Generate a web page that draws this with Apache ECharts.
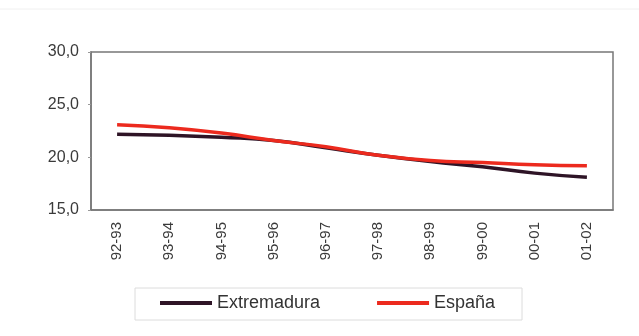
<!DOCTYPE html>
<html>
<head>
<meta charset="utf-8">
<script src="https://cdn.jsdelivr.net/npm/echarts@6/dist/echarts.min.js"></script>
<style>
  html, body { margin: 0; padding: 0; background: #fff; }
  #chart { width: 639px; height: 336px; }
</style>
</head>
<body>
<div id="chart"></div>
<script>
// chart data
var cursos = ['92-93', '93-94', '94-95', '95-96', '96-97', '97-98', '98-99', '99-00', '00-01', '01-02'];
var extremadura = [22.2, 22.1, 21.9, 21.6, 20.9, 20.2, 19.6, 19.1, 18.5, 18.1];
var espana = [23.1, 22.8, 22.3, 21.6, 21.0, 20.2, 19.7, 19.5, 19.3, 19.2];

var chart = echarts.init(document.getElementById('chart'));

var option = {
    backgroundColor: '#fff',
    animation: false,
    textStyle: { fontFamily: 'Liberation Sans, Arial, sans-serif' },
    grid: {
        left: 91,
        right: 26,
        top: 52,
        bottom: 126,
        show: true,
        borderColor: '#777',
        borderWidth: 1.5
    },
    graphic: [{
        type: 'rect',
        shape: { x: 135, y: 288, width: 387, height: 32 },
        style: { fill: '#fff', stroke: '#dcdcdc', lineWidth: 1 },
        z: -1
    }, {
        type: 'line',
        shape: { x1: 0, y1: 9, x2: 639, y2: 9 },
        style: { stroke: '#f0f0f0', lineWidth: 1 },
        z: -1
    }],
    legend: {
        left: 160,
        top: 294,
        padding: 0,
        itemWidth: 52,
        itemHeight: 4,
        itemGap: 57,
        icon: 'rect',
        textStyle: { fontSize: 18, color: '#333' },
        data: ['Extremadura', 'España']
    },
    xAxis: {
        type: 'category',
        data: cursos,
        boundaryGap: true,
        axisLine: { lineStyle: { color: '#777', width: 1.5 } },
        axisTick: { show: false },
        axisLabel: { rotate: 90, fontSize: 15, color: '#3a3a3a', margin: 12 }
    },
    yAxis: {
        type: 'value',
        min: 15,
        max: 30,
        interval: 5,
        axisLine: { show: true, lineStyle: { color: '#777', width: 1.5 } },
        axisTick: { show: true, length: 3, lineStyle: { color: '#999' } },
        splitLine: { show: false },
        axisLabel: {
            fontSize: 16,
            color: '#3a3a3a',
            margin: 12,
            formatter: function (v) { return v.toFixed(1).replace('.', ','); }
        }
    },
    series: [{
        name: 'Extremadura',
        type: 'line',
        smooth: true,
        symbol: 'none',
        color: '#2e1426',
        lineStyle: { width: 3.5, color: '#2e1426' },
        data: extremadura
    }, {
        name: 'España',
        type: 'line',
        smooth: true,
        symbol: 'none',
        color: '#ec2a1e',
        lineStyle: { width: 3.5, color: '#ec2a1e' },
        data: espana
    }]
};

chart.setOption(option);
</script>
</body>
</html>
